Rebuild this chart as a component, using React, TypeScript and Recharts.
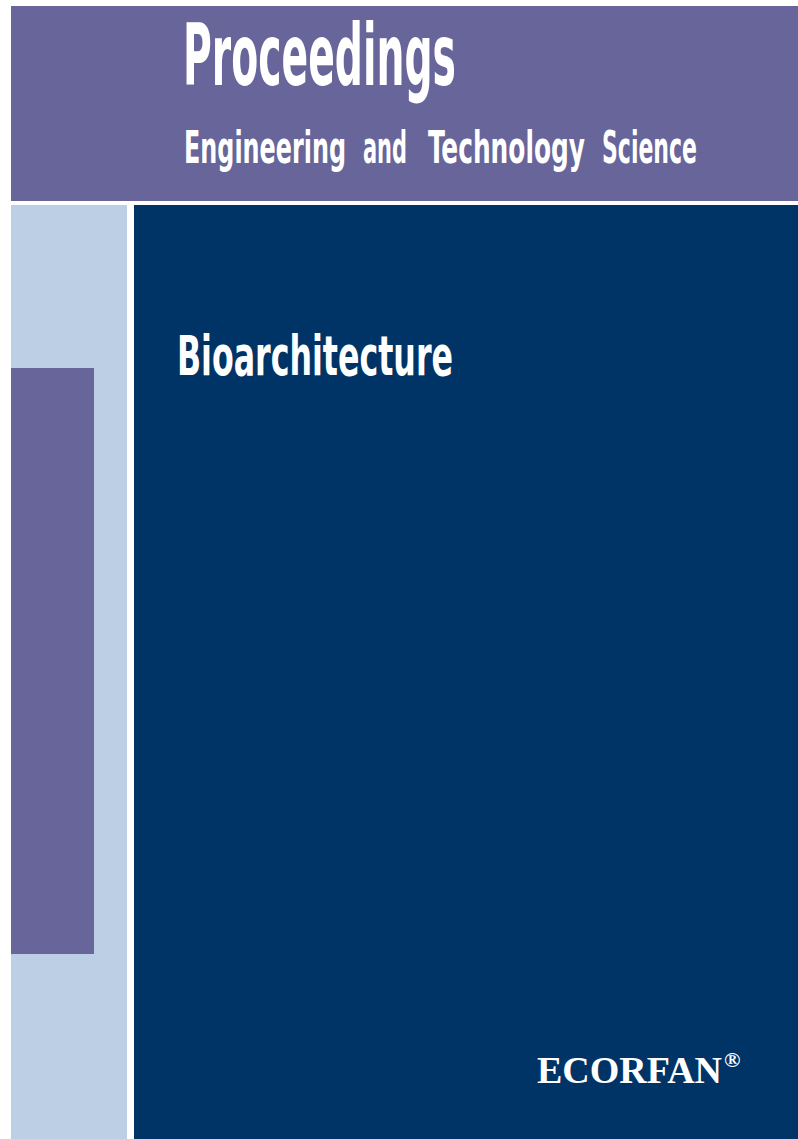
import React from 'react';
import { ComposedChart, XAxis, YAxis, ReferenceArea, ReferenceDot } from 'recharts';

const W = 798;
const H = 1139;

// cover blocks, in page units (x from left, y from top)
const blockNames = ['header', 'sideStrip', 'sideBlock', 'mainPanel'];
const blockX = [[11, 798], [11, 127], [11, 94], [134, 798]];
const blockY = [[6, 201], [205, 1139], [368, 954], [205, 1139]];
const blockColors = ['#67659a', '#bccfe5', '#67659a', '#003366'];

// title words: text, left edge, baseline, printed width, font size
const wordTexts = ['Proceedings', 'Engineering', 'and', 'Technology', 'Science', 'Bioarchitecture'];
const wordX = [183, 184, 363, 428, 602, 177];
const wordY = [85, 163, 163, 163, 163, 375];
const wordWidths = [273, 162, 44, 157, 95, 276];
const wordSizes = [86, 45, 45, 45, 45, 55];

const brand = 'ECORFAN';
const brandPos = [537, 1083];

const sansStack = '"Liberation Sans Narrow", "DejaVu Sans Condensed", "Open Sans", sans-serif';
// the cover face is a tall condensed sans: draw small and stretch upward
const stretch = 2.1;

const App: React.FC = () => {
  return (
    <div style={{ position: 'fixed', top: 0, left: 0, width: W, height: H, background: '#fff' }}>
      <ComposedChart width={W} height={H} margin={{ top: 0, right: 0, bottom: 0, left: 0 }} data={[]}>
        <XAxis type="number" dataKey="x" domain={[0, W]} hide allowDataOverflow />
        <YAxis type="number" dataKey="y" domain={[0, H]} reversed hide allowDataOverflow />

        {blockNames.map((name, i) => (
          <ReferenceArea
            key={name}
            x1={blockX[i][0]}
            x2={blockX[i][1]}
            y1={blockY[i][0]}
            y2={blockY[i][1]}
            fill={blockColors[i]}
            fillOpacity={1}
            stroke="none"
            ifOverflow="visible"
          />
        ))}

        {wordTexts.map((t, i) => (
          <ReferenceDot
            key={t}
            x={wordX[i]}
            y={wordY[i]}
            ifOverflow="visible"
            shape={(p: any) => (
              <text
                x={0}
                y={0}
                transform={`translate(${p.cx},${p.cy}) scale(1,${stretch})`}
                fill="#ffffff"
                fontFamily={sansStack}
                fontWeight={700}
                fontSize={wordSizes[i] / stretch}
                textLength={wordWidths[i]}
                lengthAdjust="spacingAndGlyphs"
              >
                {t}
              </text>
            )}
          />
        ))}

        <ReferenceDot
          x={brandPos[0]}
          y={brandPos[1]}
          ifOverflow="visible"
          shape={(p: any) => (
            <text
              x={p.cx}
              y={p.cy}
              fill="#ffffff"
              fontFamily='"Liberation Serif", "DejaVu Serif", serif'
              fontWeight={700}
              fontSize={38}
            >
              {brand}
              <tspan fontSize={22} dy={-16} dx={2}>®</tspan>
            </text>
          )}
        />
      </ComposedChart>
    </div>
  );
};

export default App;
